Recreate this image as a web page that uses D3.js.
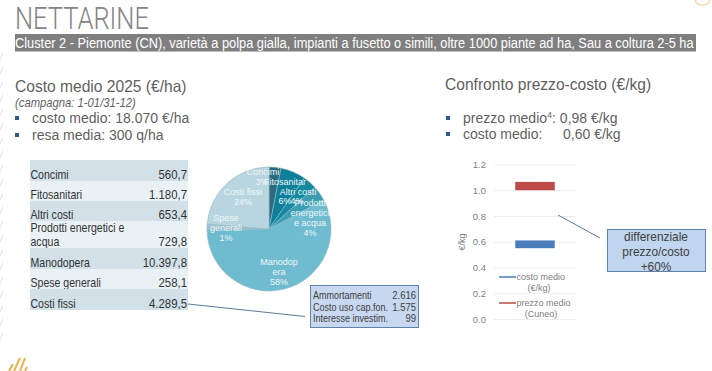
<!DOCTYPE html>
<html>
<head>
<meta charset="utf-8">
<script src="https://cdn.jsdelivr.net/npm/d3@7"></script>
<style>
  html, body { margin: 0; padding: 0; background: #fff; }
  svg { display: block; }
  text { font-family: "Liberation Sans", Arial, sans-serif; }
</style>
</head>
<body>
<script>
// Table / pie data
const categories = ["Concimi", "Fitosanitari", "Altri costi", "Prodotti energetici e acqua", "Manodopera", "Spese generali", "Costi fissi"];
const costValues = [560.7, 1180.7, 653.4, 729.8, 10397.8, 258.1, 4289.5];
const costLabels = ["560,7", "1.180,7", "653,4", "729,8", "10.397,8", "258,1", "4.289,5"];
const piePercents = ["3%", "6%", "4%", "4%", "58%", "1%", "24%"];
const pieNames = [["Concimi"], ["Fitosanitar"], ["Altri costi"], ["Prodotti", "energetici", "e acqua"], ["Manodop", "era"], ["Spese", "generali"], ["Costi fissi"]];
const pieColors = ["#2b6b80", "#0e7f98", "#15899f", "#3a9db2", "#6fbbcf", "#9cc0cc", "#b9d6e0"];

// Fixed cost detail box
const detailNames = ["Ammortamenti", "Costo uso cap.fon.", "Interesse investim."];
const detailValues = ["2.616", "1.575", "99"];

// Price vs cost chart
const yTicks = [0, 0.2, 0.4, 0.6, 0.8, 1.0, 1.2];
const barNames = ["costo medio", "prezzo medio"];
const barLow = [0.55, 1.0];
const barHigh = [0.61, 1.065];
const barColors = ["#4a7ebb", "#be4b48"];
const legendLines = [["costo medio", "(€/kg)"], ["prezzo medio", "(Cuneo)"]];

const svg = d3.select("body").append("svg")
    .attr("width", 712)
    .attr("height", 371);

const grey = "#5f5f5f";

// the original is a bit narrower than the fonts here, so squeeze plain texts
function squeeze(sel, k) {
    const px = +sel.attr("x"), py = +sel.attr("y");
    sel.attr("x", 0).attr("y", 0)
        .attr("transform", `translate(${px},${py}) scale(${k},1)`);
    return sel;
}
// same thing, but to a wanted width
function fit(sel, width) {
    return squeeze(sel, width / sel.node().getComputedTextLength());
}

// left edge decoration
const edge = svg.append("g").attr("fill", "none").attr("stroke", "#e0e0e0").attr("stroke-width", 1);
d3.range(60, 345, 14).forEach(y => {
    edge.append("path").attr("d", `M0,${y} L3,${y - 7}`);
});

// corner mark, top right
svg.append("path")
    .attr("d", "M695,0 A8,8 0 0 0 710,0")
    .attr("fill", "none")
    .attr("stroke", "#f3d9a8")
    .attr("stroke-width", 1.5);

// logo, bottom left
const logo = svg.append("g").attr("stroke", "#eeb04a").attr("stroke-width", 2).attr("fill", "none");
["M9,371 L13,364", "M14,371 L20,358", "M20,371 L25,358", "M25,371 L27,367"].forEach(d => logo.append("path").attr("d", d));

// Header
fit(svg.append("text")
    .attr("x", 15).attr("y", 29)
    .style("font-family", "Roboto")
    .style("font-weight", 300)
    .attr("font-size", 30.5)
    .attr("fill", "#858585")
    .text("NETTARINE"), 134);

svg.append("rect")
    .attr("x", 15).attr("y", 34)
    .attr("width", 681).attr("height", 17.5)
    .attr("fill", "#7f7f7f");

fit(svg.append("text")
    .attr("x", 15).attr("y", 48)
    .style("font-family", "'Liberation Sans Narrow', 'Liberation Sans'")
    .attr("font-size", 15)
    .attr("fill", "#fff")
    .text("Cluster 2 - Piemonte (CN), varietà a polpa gialla, impianti a fusetto o simili, oltre 1000 piante ad ha, Sau a coltura 2-5 ha"), 679);

function heading(x, y, t) {
    squeeze(svg.append("text").attr("x", x).attr("y", y)
        .attr("font-size", 16.5).attr("fill", grey).text(t), 0.945);
}
function bullet(x, y, t) {
    svg.append("rect").attr("x", x).attr("y", y - 7).attr("width", 4).attr("height", 4).attr("fill", "#2f5a8f");
    return svg.append("text").attr("x", x + 17).attr("y", y)
        .attr("font-size", 14).attr("fill", grey).text(t);
}

heading(15, 92, "Costo medio 2025 (€/ha)");
squeeze(svg.append("text").attr("x", 15).attr("y", 107)
    .attr("font-size", 12).attr("font-style", "italic").attr("fill", grey)
    .text("(campagna: 1-01/31-12)"), 0.94);
bullet(15, 123, "costo medio: 18.070 €/ha");
bullet(15, 140, "resa media: 300 q/ha");

heading(445, 90, "Confronto prezzo-costo (€/kg)");
const pm = bullet(446, 123, "prezzo medio");
pm.append("tspan").attr("font-size", 9).attr("dy", -5).text("4");
pm.append("tspan").attr("dy", 5).text(":  0,98 €/kg");
bullet(446, 139, "costo medio:");
svg.append("text").attr("x", 563).attr("y", 139).attr("font-size", 14).attr("fill", grey).text("0,60 €/kg");

// Table
const rowTops = [160, 181, 201, 221, 248, 269, 289, 310];
const table = svg.append("g");
categories.forEach((c, i) => {
    table.append("rect")
        .attr("x", 30).attr("y", rowTops[i])
        .attr("width", 158).attr("height", rowTops[i + 1] - rowTops[i])
        .attr("fill", i % 2 === 0 ? "#d2e1e8" : "#e9f1f5");
    const base = rowTops[i + 1] - 2.5;
    const lines = i === 3 ? ["Prodotti energetici e", "acqua"] : [c];
    lines.forEach((l, k) => {
        squeeze(table.append("text").attr("x", 30.5).attr("y", base - (lines.length - 1 - k) * 13.5)
            .attr("font-size", 12).attr("fill", "#333").text(l), 0.88);
    });
    const v = table.append("text").attr("x", 187).attr("y", base)
        .attr("text-anchor", "end")
        .attr("font-size", 12).attr("fill", "#333").text(costLabels[i]);
    squeeze(v, 0.95);
});

// Pie
const pieR = 62;
const pieG = svg.append("g").attr("transform", "translate(269,229)");
const arcs = d3.pie().sort(null)(costValues);
const arc = d3.arc().innerRadius(0).outerRadius(pieR);

pieG.selectAll("path")
    .data(arcs)
    .enter()
    .append("path")
    .attr("d", arc)
    .attr("fill", (d, i) => pieColors[i])
    .attr("stroke", "#8fb9c6")
    .attr("stroke-width", 0.6);

// label offsets from the pie centre, placed by hand like the original
const labelOffset = [[-6, -54], [16, -44], [29, -34], [41, -23], [10, 36], [-43, -8], [-26, -34]];
function pieLabel(x, y, t) {
    pieG.append("text")
        .attr("x", x).attr("y", y)
        .attr("text-anchor", "middle")
        .style("font-family", "'Liberation Sans Narrow', 'Liberation Sans'")
        .attr("font-size", 9)
        .attr("fill", "#eef6f8")
        .text(t);
}
pieNames.forEach((lines, i) => {
    lines.forEach((l, k) => pieLabel(labelOffset[i][0], labelOffset[i][1] + k * 10, l));
    // these three sit beside each other in the original, the rest go under the name
    if (i > 2) pieLabel(labelOffset[i][0], labelOffset[i][1] + lines.length * 10, piePercents[i]);
});
pieLabel(-7, -44, piePercents[0]);
pieLabel(16, -25, piePercents[1]);
pieLabel(28, -25, piePercents[2]);

// Connector and fixed cost box
svg.append("line")
    .attr("x1", 188).attr("y1", 304).attr("x2", 305).attr("y2", 316.5)
    .attr("stroke", "#5a7a9c").attr("stroke-width", 1);

svg.append("rect")
    .attr("x", 310.5).attr("y", 285.5).attr("width", 108).attr("height", 42)
    .attr("fill", "#c8d8f0").attr("stroke", "#5f82ad").attr("stroke-width", 1);

detailNames.forEach((n, i) => {
    squeeze(svg.append("text").attr("x", 313).attr("y", 299 + i * 11.5)
        .attr("font-size", 10).attr("fill", "#404040").text(n), 0.9);
    squeeze(svg.append("text").attr("x", 416).attr("y", 299 + i * 11.5)
        .attr("text-anchor", "end")
        .attr("font-size", 10).attr("fill", "#404040").text(detailValues[i]), 0.95);
});

// Price / cost chart
const y = d3.scaleLinear().domain([0, 1.2]).range([319, 164.5]);
const x = d3.scaleBand().domain(["Cuneo"]).range([494, 576]).padding(0.35);

const yAxis = d3.axisLeft(y)
    .tickValues(yTicks)
    .tickSize(-82)
    .tickFormat(d3.format(".1f"));

const yAxisGroup = svg.append("g")
    .attr("class", "y-axis")
    .attr("transform", "translate(494,0)")
    .call(yAxis);

yAxisGroup.select(".domain").remove();
yAxisGroup.selectAll("line").attr("stroke", "#ececec");
yAxisGroup.selectAll("text")
    .attr("font-size", 9.5)
    .attr("fill", "#808080")
    .attr("x", -8);

svg.selectAll(".bar")
    .data(barNames)
    .enter()
    .append("rect")
    .attr("class", "bar")
    .attr("x", x("Cuneo"))
    .attr("width", x.bandwidth())
    .attr("y", (d, i) => y(barHigh[i]))
    .attr("height", (d, i) => y(barLow[i]) - y(barHigh[i]))
    .attr("fill", (d, i) => barColors[i]);

svg.append("text")
    .attr("transform", "translate(465,242) rotate(-90)")
    .attr("text-anchor", "middle")
    .attr("font-size", 9)
    .attr("fill", "#808080")
    .text("€/kg");

// Legend
legendLines.forEach((lines, i) => {
    const ly = 277 + i * 26;
    svg.append("line")
        .attr("x1", 499).attr("x2", 516).attr("y1", ly).attr("y2", ly)
        .attr("stroke", barColors[i]).attr("stroke-width", 1.5);
    svg.append("text").attr("x", 516.5).attr("y", ly + 3)
        .attr("font-size", 9).attr("fill", "#808080").text(lines[0]);
    svg.append("text").attr("x", i === 0 ? 539 : 541).attr("y", ly + 14)
        .attr("text-anchor", "middle")
        .attr("font-size", 9).attr("fill", "#808080").text(lines[1]);
});

// Differential callout
svg.append("line")
    .attr("x1", 558).attr("y1", 215).attr("x2", 600).attr("y2", 238)
    .attr("stroke", "#5a7a9c").attr("stroke-width", 1);

svg.append("rect")
    .attr("x", 607.5).attr("y", 229.5).attr("width", 98).attr("height", 42)
    .attr("fill", "#c0d5ee").attr("stroke", "#5f82ad").attr("stroke-width", 1);

["differenziale", "prezzo/costo", "+60%"].forEach((t, i) => {
    squeeze(svg.append("text").attr("x", 656).attr("y", 240.5 + i * 15)
        .attr("text-anchor", "middle")
        .attr("font-size", 12.5).attr("fill", "#404040").text(t), 0.95);
});
</script>
</body>
</html>
